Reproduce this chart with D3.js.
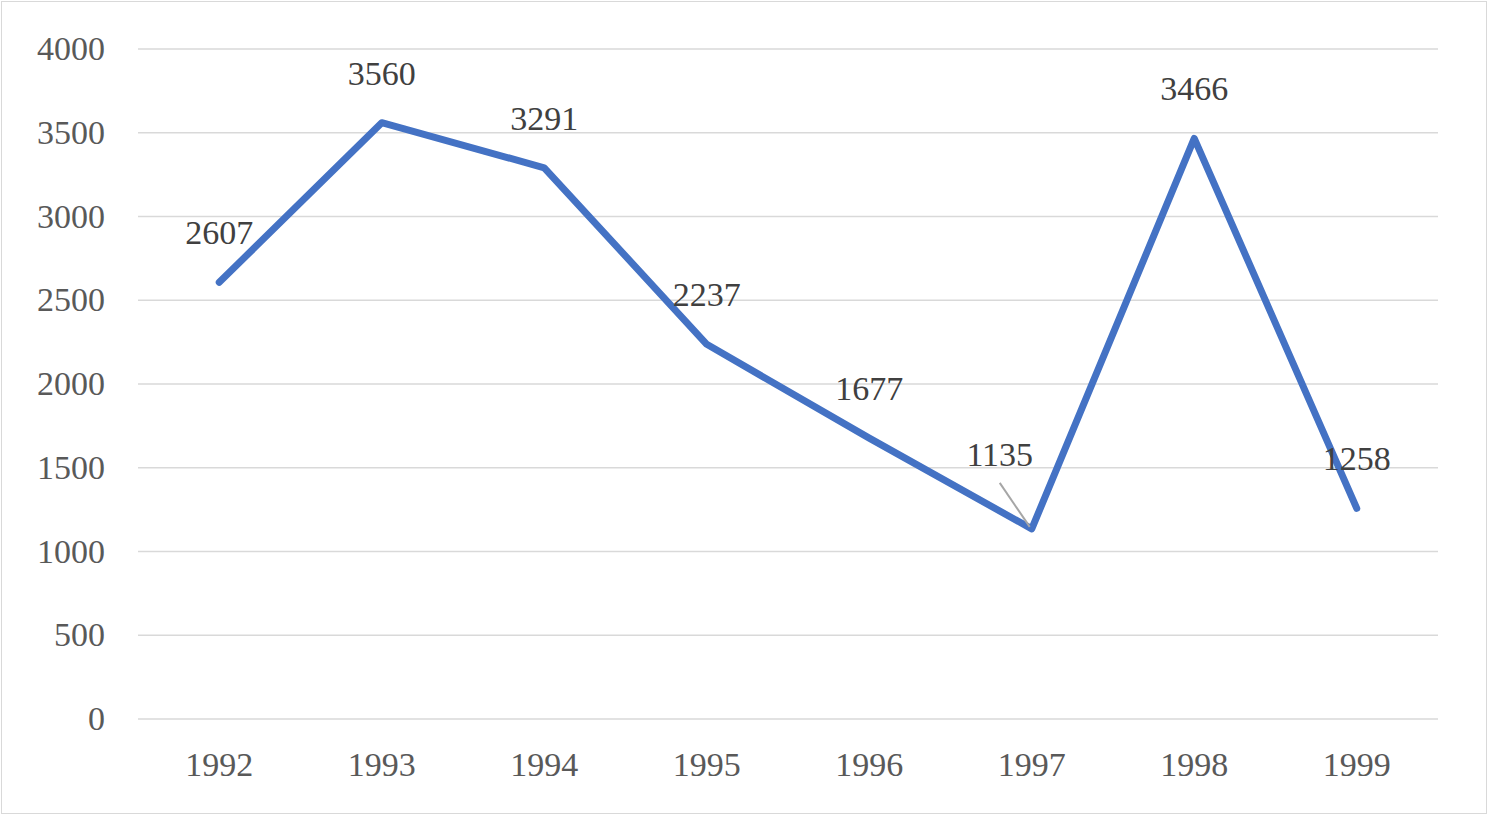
<!DOCTYPE html>
<html>
<head>
<meta charset="utf-8">
<script src="https://cdn.jsdelivr.net/npm/d3@7/dist/d3.min.js"></script>
<style>
  body { margin: 0; background: #fff; }
  text { font-family: "Liberation Serif", "Times New Roman", serif; }
</style>
</head>
<body>
<div id="app"></div>
<script>
const years = ['1992', '1993', '1994', '1995', '1996', '1997', '1998', '1999']
const values = [2607, 3560, 3291, 2237, 1677, 1135, 3466, 1258]
const yTicks = [0, 500, 1000, 1500, 2000, 2500, 3000, 3500, 4000]

// label nudges (1997 label sits up-left with a leader line)
const labelShift = { '1997': [-32, -25] }

const size = { width: 1488, height: 817 }
const plot = { left: 138, right: 1438, top: 49, bottom: 719 }

const svg = d3.select('#app').append('svg')
  .attr('width', size.width)
  .attr('height', size.height)

svg.append('rect')
  .attr('x', 1.5).attr('y', 1.5)
  .attr('width', size.width - 3).attr('height', size.height - 5)
  .attr('fill', 'white').attr('stroke', '#d9d9d9')

const x = d3.scaleBand().domain(years).range([plot.left, plot.right])
const y = d3.scaleLinear().domain([0, 4000]).range([plot.bottom, plot.top])

// gridlines
svg.append('g')
  .selectAll('line')
  .data(yTicks)
  .enter()
  .append('line')
  .attr('x1', plot.left).attr('x2', plot.right)
  .attr('y1', d => y(d)).attr('y2', d => y(d))
  .attr('stroke', '#d9d9d9').attr('stroke-width', 1.5)

// y labels
svg.append('g')
  .selectAll('text')
  .data(yTicks)
  .enter()
  .append('text')
  .attr('x', 105)
  .attr('y', d => y(d) + 11)
  .attr('text-anchor', 'end')
  .attr('font-size', 34)
  .attr('fill', '#595959')
  .text(d => d)

// x labels
svg.append('g')
  .selectAll('text')
  .data(years)
  .enter()
  .append('text')
  .attr('x', d => x(d) + x.bandwidth() / 2)
  .attr('y', 776)
  .attr('text-anchor', 'middle')
  .attr('font-size', 34)
  .attr('fill', '#595959')
  .text(d => d)

const pts = years.map((yr, i) => ({ yr, v: values[i] }))
const cx = d => x(d.yr) + x.bandwidth() / 2

svg.append('path')
  .datum(pts)
  .attr('d', d3.line().x(cx).y(d => y(d.v)))
  .attr('fill', 'none')
  .attr('stroke', '#4472c4')
  .attr('stroke-width', 7)
  .attr('stroke-linejoin', 'round')
  .attr('stroke-linecap', 'round')

// leader lines
svg.append('g')
  .selectAll('line')
  .data(pts.filter(d => labelShift[d.yr]))
  .enter()
  .append('line')
  .attr('x1', d => cx(d) + labelShift[d.yr][0])
  .attr('y1', d => y(d.v) - 46)
  .attr('x2', d => cx(d) - 2)
  .attr('y2', d => y(d.v) - 2)
  .attr('stroke', '#a6a6a6').attr('stroke-width', 2)

svg.append('g')
  .selectAll('text')
  .data(pts)
  .enter()
  .append('text')
  .attr('x', d => cx(d) + (labelShift[d.yr] ? labelShift[d.yr][0] : 0))
  .attr('y', d => y(d.v) - 38 + (labelShift[d.yr] ? labelShift[d.yr][1] : 0))
  .attr('text-anchor', 'middle')
  .attr('font-size', 34)
  .attr('fill', '#404040')
  .text(d => d.v)
</script>
</body>
</html>
